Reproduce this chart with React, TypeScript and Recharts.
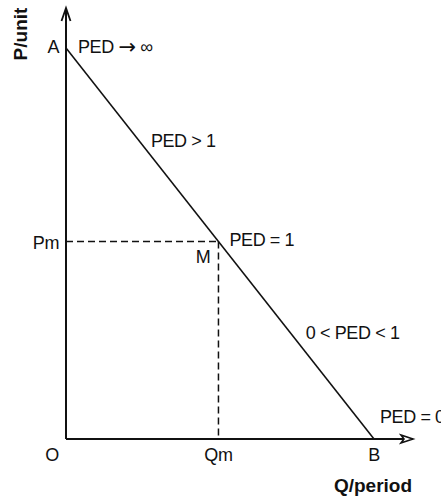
import React from 'react';
import { ComposedChart, Line, XAxis, YAxis, ReferenceLine, ReferenceDot } from 'recharts';

// demand curve end points (A on the price axis, B on the quantity axis)
const quantity = [0, 100];
const price = [100, 0];
// unit-elastic midpoint M
const qm = 49.5;
const pm = 50.5;

const xTicks = [0, qm, 100];
const xTickLabels = ['O', 'Qm', 'B'];
const yTicks = [pm, 100];
const yTickLabels = ['Pm', 'A'];

const demand = quantity.map((q, i) => ({ q, p: price[i] }));

const X_MAX = 112.66;
const Y_MAX = 110.23;
const FONT = '"Liberation Sans", Arial, sans-serif';
const INK = '#111';

const textStyle = { fontFamily: FONT, fontSize: 18, fill: INK, letterSpacing: -0.4 };
const titleStyle = { fontFamily: FONT, fontSize: 19, fill: INK, fontWeight: 700 };

const note = (text: string, dx: number, dy: number, anchor = 'start', rotate = false) =>
  (props: any) => {
    const x = props.cx + dx;
    const y = props.cy + dy;
    return (
      <text
        x={x}
        y={y}
        textAnchor={anchor}
        dominantBaseline="central"
        transform={rotate ? `rotate(-90 ${x} ${y})` : undefined}
        style={rotate || anchor === 'middle' ? titleStyle : textStyle}
      >
        {text.split('\u2192').map((part, i, all) => (
          <React.Fragment key={i}>
            {part}
            {i < all.length - 1 && <tspan style={{ fontFamily: '"DejaVu Sans"', fontSize: 21 }}>{'\u2192'}</tspan>}
          </React.Fragment>
        ))}
      </text>
    );
  };

const arrowRight = (props: any) => (
  <path
    d={`M ${props.cx - 12} ${props.cy - 4} L ${props.cx} ${props.cy} L ${props.cx - 12} ${props.cy + 4} L ${props.cx - 9} ${props.cy} Z`}
    fill="#fff"
    stroke={INK}
    strokeWidth={1.6}
    strokeLinejoin="miter"
  />
);

const arrowUp = (props: any) => (
  <path
    d={`M ${props.cx - 4.5} ${props.cy + 13} L ${props.cx} ${props.cy} L ${props.cx + 4.5} ${props.cy + 13}`}
    fill="none"
    stroke={INK}
    strokeWidth={1.8}
  />
);

const XTick = (props: any) => {
  const { x, y, payload } = props;
  const i = xTicks.indexOf(payload.value);
  const dx = payload.value === 0 ? -14 : 0;
  return (
    <text x={x + dx} y={y + 8} textAnchor="middle" dominantBaseline="central" style={textStyle}>
      {xTickLabels[i]}
    </text>
  );
};

const YTick = (props: any) => {
  const { x, y, payload } = props;
  const i = yTicks.indexOf(payload.value);
  const dy = payload.value === 100 ? -1 : 1;
  return (
    <text x={x + 1} y={y + dy} textAnchor="end" dominantBaseline="central" style={textStyle}>
      {yTickLabels[i]}
    </text>
  );
};

export default function App() {
  return (
    <div style={{ position: 'absolute', left: 0, top: 0, width: 441, height: 497, background: '#fff' }}>
      <ComposedChart
        width={441}
        height={497}
        data={demand}
        margin={{ top: 8, right: 28, bottom: 28, left: 26 }}
        style={{ overflow: 'hidden' }}
      >
        <XAxis
          type="number"
          dataKey="q"
          domain={[0, X_MAX]}
          ticks={xTicks}
          height={30}
          tick={<XTick />}
          tickLine={false}
          axisLine={{ stroke: INK, strokeWidth: 2 }}
          allowDataOverflow
        />
        <YAxis
          type="number"
          dataKey="p"
          domain={[0, Y_MAX]}
          ticks={yTicks}
          width={40}
          tick={<YTick />}
          tickLine={false}
          axisLine={{ stroke: INK, strokeWidth: 2 }}
          allowDataOverflow
        />
        <ReferenceLine
          segment={[{ x: 0, y: pm }, { x: qm, y: pm }]}
          stroke={INK}
          strokeWidth={1.5}
          strokeDasharray="7 4"
        />
        <ReferenceLine
          segment={[{ x: qm, y: pm }, { x: qm, y: 0 }]}
          stroke={INK}
          strokeWidth={1.5}
          strokeDasharray="7 4"
        />
        <Line
          type="linear"
          dataKey="p"
          stroke={INK}
          strokeWidth={1.6}
          dot={false}
          activeDot={false}
          isAnimationActive={false}
        />
        <ReferenceDot x={X_MAX} y={0} ifOverflow="visible" shape={arrowRight} />
        <ReferenceDot x={0} y={Y_MAX} ifOverflow="visible" shape={arrowUp} />
        <ReferenceDot x={0} y={100} ifOverflow="visible" shape={note('PED \u2192 \u221E', 12, -1)} />
        <ReferenceDot x={24} y={76} ifOverflow="visible" shape={note('PED > 1', 11, -1)} />
        <ReferenceDot x={qm} y={pm} ifOverflow="visible" shape={note('PED = 1', 11, -2)} />
        <ReferenceDot x={qm} y={pm} ifOverflow="visible" shape={note('M', -8, 15, 'end')} />
        <ReferenceDot x={73} y={27} ifOverflow="visible" shape={note('0 < PED < 1', 15, 0)} />
        <ReferenceDot x={100} y={0} ifOverflow="visible" shape={note('PED = 0', 6, -22)} />
        <ReferenceDot x={X_MAX} y={0} ifOverflow="visible" shape={note('Q/period', -40, 46, 'middle')} />
        <ReferenceDot x={0} y={Y_MAX} ifOverflow="visible" shape={note('P/unit', -46, 26, 'middle', true)} />
      </ComposedChart>
    </div>
  );
}
